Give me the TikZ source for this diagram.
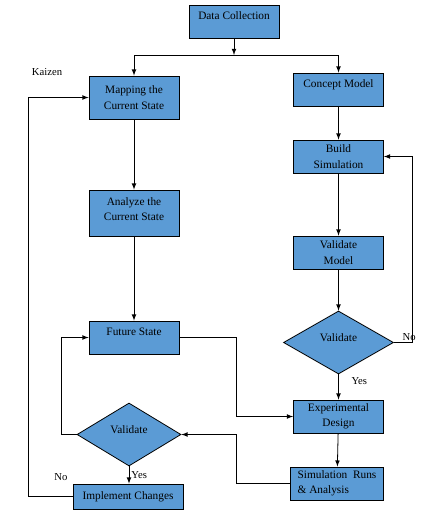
\documentclass[tikz,border=0pt]{standalone}
\usepackage{fontspec}
\setmainfont{Liberation Serif}
\usetikzlibrary{shapes.geometric}
\definecolor{boxblue}{RGB}{91,155,213}
\begin{document}
\begin{tikzpicture}[x=0.75pt,y=-0.75pt,
  box/.style={draw, fill=boxblue, line width=0.6pt, minimum width=67.5pt, minimum height=24.75pt, align=center, inner sep=2pt, font=\fontsize{8.5}{11.5}\selectfont},
  toptext/.style={text height=10.5pt, text depth=14.25pt, inner ysep=0pt},
  decision/.style={diamond, draw, fill=boxblue, line width=0.6pt, inner sep=0pt, minimum width=82.5pt, minimum height=47.25pt, text height=6pt, text depth=7pt, font=\fontsize{8.5}{11.5}\selectfont},
  line/.style={line width=0.6pt, ->, >=latex},
  lbl/.style={font=\fontsize{8}{10}\selectfont, inner sep=1.5pt}]
\useasboundingbox (0,0) rectangle (437,521);
% boxes
\node[box, toptext] (dc) at (234,21.5) {Data Collection};
\node[box, minimum height=32.25pt] (map) at (134,97.5) {Mapping the\\Current State};
\node[box, toptext] (con) at (338.5,89.5) {Concept Model};
\node[box] (bld) at (338.5,156.5) {Build\\Simulation};
\node[box, text depth=6pt, minimum height=34.5pt] (ana) at (134,213) {Analyze the\\Current State};
\node[box] (vm) at (338.5,252.5) {Validate\\Model};
\node[box, toptext] (fut) at (134,337.5) {Future State};
\node[decision] (dv1) at (338.5,342.5) {Validate};
\node[box] (exp) at (338.5,416.5) {Experimental\\Design};
\node[decision, minimum width=78pt] (dv2) at (129,434.5) {Validate};
\node[box, minimum width=69.75pt, align=left] (sim) at (337,483.5) {Simulation~ Runs\\\& Analysis};
\node[box, minimum width=82.5pt, minimum height=18.75pt] (imp) at (128,496.5) {Implement Changes};
% texts
\node[lbl] (kaizen) at (47,72) {Kaizen};
\node[lbl] (no2) at (61,477) {No};
% turning points
\coordinate (split) at (234,55);
\coordinate (mid) at (236,0);
\coordinate (lft) at (61,0);
\coordinate (kz) at (28,0);
% connectors
\draw[line] (dc) -- (split);
\draw[line] (split) -| (map.north);
\draw[line] (split) -| (con.north);
\draw[line] (map) -- (ana);
\draw[line] (ana) -- (fut);
\draw[line] (con) -- (bld);
\draw[line] (bld) -- (vm);
\draw[line] (vm) -- (dv1);
\draw[line] (dv1) -- node[lbl, pos=0.25, right=8pt] {Yes} (exp);
\draw[line] (dv1.east) -- ++(18,0) node[lbl, above, xshift=-2pt] {No} |- (bld.east);
\draw[line] (fut.east) -- (fut.east -| mid) |- (exp.west);
\draw[line] (exp) -- (sim);
\draw[line] (sim.west) -- (sim.west -| mid) |- (dv2.east);
\draw[line] (dv2.west) -- (dv2.west -| lft) |- (fut.west);
\draw[line] (dv2) -- node[lbl, right] {Yes} (dv2.south |- imp.north);
\draw[line] (imp.west) -- (imp.west -| kz) |- (map.west);
\end{tikzpicture}
\end{document}
